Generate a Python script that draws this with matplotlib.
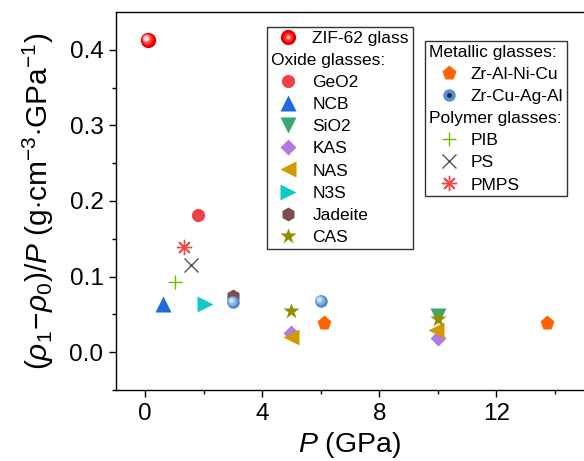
import matplotlib
matplotlib.use("Agg")
import matplotlib.pyplot as plt
import matplotlib.transforms as mtransforms
from matplotlib.lines import Line2D
from matplotlib.legend_handler import HandlerTuple

plt.rcParams.update({
    "font.family": "Liberation Sans",
    "mathtext.fontset": "custom",
    "mathtext.rm": "Liberation Sans",
    "mathtext.it": "Liberation Sans:italic",
    "mathtext.bf": "Liberation Sans:bold",
})

# ── Data (P in GPa, (rho1-rho0)/P in g/cm3/GPa) ─────────────────────────────
zif_p,    zif_v    = [0.09], [0.413]
geo2_p,   geo2_v   = [1.80], [0.182]
ncb_p,    ncb_v    = [0.61], [0.064]
sio2_p,   sio2_v   = [10.0], [0.048]
kas_p,    kas_v    = [5.0, 10.0], [0.026, 0.019]
nas_p,    nas_v    = [4.98, 9.93], [0.020, 0.029]
n3s_p,    n3s_v    = [2.06], [0.064]
jad_p,    jad_v    = [2.99], [0.074]
cas_p,    cas_v    = [5.0, 10.0], [0.055, 0.044]
zanc_p,   zanc_v   = [6.11, 13.74], [0.038, 0.039]
zcaa_p,   zcaa_v   = [2.99, 6.0], [0.067, 0.068]
pib_p,    pib_v    = [1.02], [0.093]
ps_p,     ps_v     = [1.55], [0.115]
pmps_p,   pmps_v   = [1.33], [0.139]

x_ticks = [0, 4, 8, 12]
y_ticks = [0.0, 0.1, 0.2, 0.3, 0.4]

fig = plt.figure(figsize=(5.84, 4.61), dpi=100)
ax = fig.add_axes([0.1986, 0.154, 0.8014, 0.820])


def sphere(xs, ys, base, shades, size, z=3):
    # fake 3D ball: base disc plus lighter discs nudged to upper-left
    ax.plot(xs, ys, "o", ms=size, color=base, mec="none", zorder=z, clip_on=False)
    n = len(shades)
    for i, c in enumerate(shades):
        f = (i + 1) / (n + 1)
        off = mtransforms.ScaledTranslation(-size * 0.18 * f / 72, size * 0.18 * f / 72,
                                            fig.dpi_scale_trans)
        ax.plot(xs, ys, "o", ms=size * (1 - 0.85 * f), color=c, mec="none",
                zorder=z + 0.01 * (i + 1), transform=ax.transData + off, clip_on=False)


# scatter points
ax.plot(geo2_p, geo2_v, "o", ms=9.5, color="#EF4146", mec="none", zorder=3)
ax.plot(ncb_p, ncb_v, "^", ms=11, color="#1C6BE0", mec="none", zorder=3)
ax.plot(sio2_p, sio2_v, "v", ms=11, color="#39A86B", mec="none", zorder=3)
ax.plot(kas_p, kas_v, "D", ms=8, color="#B07BE0", mec="none", zorder=3)
ax.plot(nas_p, nas_v, "<", ms=11, color="#D09A00", mec="none", zorder=4)
ax.plot(n3s_p, n3s_v, ">", ms=11, color="#12C8C8", mec="none", zorder=3)
ax.plot(jad_p, jad_v, "h", ms=10, color="#7B4F4F", mec="none", zorder=2)
ax.plot(cas_p, cas_v, "*", ms=12, color="#8F8F00", mec="none", zorder=5)
ax.plot(zanc_p, zanc_v, "p", ms=11, color="#FF6400", mec="none", zorder=3)
ax.plot(pib_p, pib_v, "+", ms=10, mew=1, color="#66C000", zorder=3)
ax.plot(ps_p, ps_v, "x", ms=10, mew=1, color="#555555", zorder=3)
ax.plot(pmps_p, pmps_v, marker=(8, 2, 0), ls="none", ms=11, mew=1, color="#F04848", zorder=3)
sphere(zif_p, zif_v, "#E00000", ["#FF1010", "#FF4040", "#FF9090", "#FFE0E0"], 11)
sphere(zcaa_p, zcaa_v, "#4F86C6", ["#6A9ED8", "#86B6E6", "#A8CDF2", "#D0E6FA"], 9)

# axes styling
ax.set_xlim(-1, 15)
ax.set_ylim(-0.05, 0.45)
ax.set_xticks(x_ticks)
ax.set_xticks([2, 6, 10, 14], minor=True)
ax.set_yticks(y_ticks)
ax.set_yticks([-0.05, 0.05, 0.15, 0.25, 0.35], minor=True)
ax.set_yticklabels([f"{v:.1f}" for v in y_ticks])
ax.tick_params(which="both", direction="out", labelsize=17.5, width=1, top=False, right=False)
ax.tick_params(which="major", length=5, pad=4)
ax.tick_params(which="minor", length=3)
ax.spines["right"].set_visible(False)
for s in ["left", "bottom", "top"]:
    ax.spines[s].set_linewidth(1)

ax.set_xlabel(r"$P$ (GPa)", fontsize=20.5, labelpad=4)
ax.set_ylabel(r"$(\rho_1\!-\!\rho_0)/P$ (g$\cdot$cm$^{-3}$$\cdot$GPa$^{-1}$)",
              fontsize=21.5, labelpad=10)

# ── legends ─────────────────────────────────────────────────────────────────
blank = Line2D([], [], ls="none", marker="none")


def mk(marker, color, ms, line=False, **kw):
    return Line2D([], [], ls="none", marker=marker, color=color, ms=ms,
                  mec=color if line else "none", **kw)


zif_h = (mk("o", "#E80000", 11), mk("o", "#FF3535", 6.5), mk("o", "#FFB8B8", 2.8))
zcaa_h = (mk("o", "#5B8FD0", 9), mk("o", "#1A2A40", 3.5))

h1 = [zif_h, blank,
      mk("o", "#EF4146", 9.5), mk("^", "#1C6BE0", 11), mk("v", "#39A86B", 11),
      mk("D", "#B07BE0", 8), mk("<", "#D09A00", 11), mk(">", "#12C8C8", 11),
      mk("h", "#7B4F4F", 10), mk("*", "#8F8F00", 12)]
l1 = ["ZIF-62 glass", "Oxide glasses:", "GeO2", "NCB", "SiO2", "KAS", "NAS",
      "N3S", "Jadeite", "CAS"]

h2 = [blank, mk("p", "#FF6400", 11), zcaa_h, blank,
      mk("+", "#66C000", 10, line=True, mew=1), mk("x", "#555555", 10, line=True, mew=1),
      mk((8, 2, 0), "#F04848", 11, line=True, mew=1)]
l2 = ["Metallic glasses:", "Zr-Al-Ni-Cu", "Zr-Cu-Ag-Al", "Polymer glasses:",
      "PIB", "PS", "PMPS"]

common = dict(loc="upper left", bbox_transform=fig.transFigure, borderaxespad=0,
              fontsize=12.5, frameon=True, fancybox=False, framealpha=1,
              edgecolor="#333333", labelspacing=0.4, borderpad=0.22,
              handler_map={tuple: HandlerTuple(ndivide=1, pad=0)})

leg1 = fig.legend(h1, l1, bbox_to_anchor=(267 / 584, 1 - 27 / 461),
                  handlelength=2.0, handletextpad=0.4, **common)
leg2 = fig.legend(h2, l2, bbox_to_anchor=(425 / 584, 1 - 41 / 461),
                  handlelength=2.3, handletextpad=0.1, **common)
for leg, headers in [(leg1, {1}), (leg2, {0, 3})]:
    leg.get_frame().set_linewidth(1)
    rows = []
    for col in leg._legend_handle_box.get_children():
        rows.extend(col.get_children())
    for i, row in enumerate(rows):
        if i in headers:
            da = row.get_children()[0]
            da.width = 0
            row.sep = 0

fig.savefig("out.png", dpi=100)
